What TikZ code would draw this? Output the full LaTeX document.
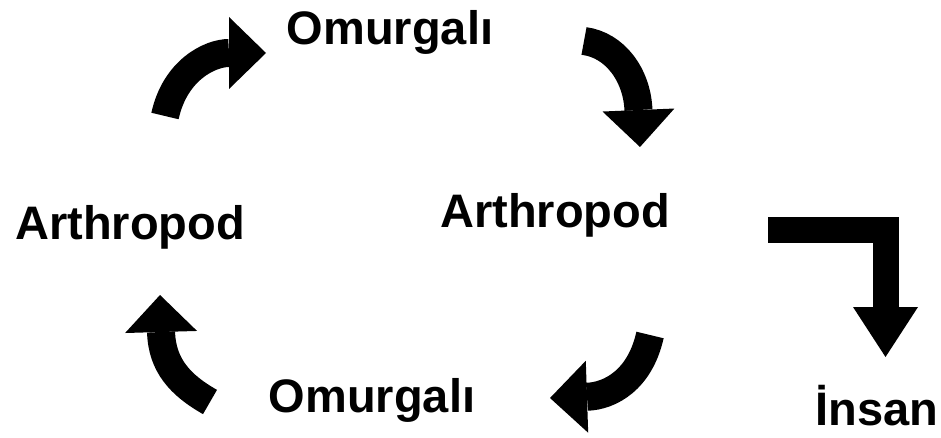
\documentclass[tikz,border=0pt]{standalone}
\usepackage{fontspec}
\setmainfont{Liberation Sans}
\usetikzlibrary{arrows.meta}
\tikzstyle{lbl}=[anchor=base, inner sep=0pt, font=\fontsize{47}{50}\selectfont\bfseries]
\tikzstyle{fat}=[draw=black, line width=28pt, -{Triangle[length=37pt,width=72pt,line width=0pt]}]

\begin{document}
\begin{tikzpicture}[x=1pt,y=-1pt]
    \useasboundingbox (0,0) rectangle (941,438);
    \node [lbl] (omtop) at (390,45) {Omurgalı};
    \node [lbl] (arleft) at (130,240) {Arthropod};
    \node [lbl] (arright) at (555,228) {Arthropod};
    \node [lbl] (ombot) at (372,412) {Omurgalı};
    \node [lbl] (insan) at (877,425) {İnsan};
    % ends of the arrows
    \node [coordinate] (a1s) at (165,116) {};
    \node [coordinate] (a1e) at (266,53) {};
    \node [coordinate] (a2s) at (584,41) {};
    \node [coordinate] (a2e) at (640,147) {};
    \node [coordinate] (a3s) at (650,335) {};
    \node [coordinate] (a3e) at (550,398) {};
    \node [coordinate] (a4s) at (210,402) {};
    \node [coordinate] (a4e) at (160,295) {};
    \node [coordinate] (ls) at (768,230) {};
    \node [coordinate] (le) at (885.5,357) {};
    \draw [fat] (a1s) .. controls (175,70) and (210,53) .. (a1e);
    \draw [fat] (a2s) .. controls (615,45) and (637,75) .. (a2e);
    \draw [fat] (a3s) .. controls (640,380) and (610,396) .. (a3e);
    \draw [fat] (a4s) .. controls (180,385) and (162,365) .. (a4e);
    \draw [fat, line width=26pt, line join=miter, -{Triangle[length=50pt,width=65pt,line width=0pt]}]
        (ls) -| (le);
\end{tikzpicture}
\end{document}
